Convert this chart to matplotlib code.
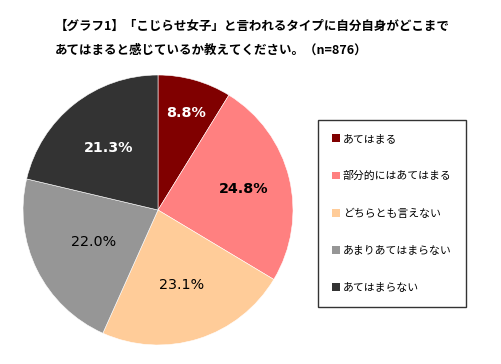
import numpy as np
import matplotlib.pyplot as plt
from matplotlib.patches import Patch

# Data
categories = ["あてはまる", "部分的にはあてはまる", "どちらとも言えない",
              "あまりあてはまらない", "あてはまらない"]
values = [8.8, 24.8, 23.1, 22.0, 21.3]
colors = ["#800000", "#FF8080", "#FFCC99", "#969696", "#333333"]
title = ("【グラフ1】「こじらせ女子」と言われるタイプに自分自身がどこまで\n"
         "あてはまると感じているか教えてください。（n=876）")

# label styling (position distance as fraction of radius)
label_dist = [0.75, 0.65, 0.58, 0.53, 0.59]
label_color = ["white", "black", "black", "black", "white"]
label_weight = ["bold", "bold", "normal", "normal", "bold"]

W, H = 502, 364
fig = plt.figure(figsize=(W / 100, H / 100), dpi=100)
fig.patch.set_facecolor("white")

jp = ["Noto Sans CJK JP", "DejaVu Sans"]
num = ["DejaVu Sans", "Noto Sans CJK JP"]

# Pie
cx, cy, r = 158, 210, 135
ax = fig.add_axes([(cx - r) / W, (H - cy - r) / H, 2 * r / W, 2 * r / H])
wedges, _ = ax.pie(values, colors=colors, startangle=90, counterclock=False,
                   radius=1.0, wedgeprops=dict(edgecolor="white", linewidth=0.4))
ax.set_xlim(-1, 1)
ax.set_ylim(-1, 1)
ax.set_aspect("equal")
ax.axis("off")

for w, v, d, c, fw in zip(wedges, values, label_dist, label_color, label_weight):
    ang = np.deg2rad((w.theta1 + w.theta2) / 2)
    ax.text(d * np.cos(ang), d * np.sin(ang), f"{v:.1f}%", ha="center", va="center",
            fontsize=10.3, color=c, fontweight=fw, family=num)

# Title
fig.text(55 / W, 1 - 26 / H, title.split("\n")[0], ha="left", va="center",
         fontsize=9, fontweight="bold", family=jp)
fig.text(55 / W, 1 - 50 / H, title.split("\n")[1], ha="left", va="center",
         fontsize=9, fontweight="bold", family=jp)

# Legend
handles = [Patch(facecolor=c, edgecolor="none") for c in colors]
leg = fig.legend(handles, categories, loc="upper left",
                 bbox_to_anchor=(318 / W, 1 - 120 / H), frameon=True,
                 prop={"family": jp, "size": 7.8}, handlelength=0.7,
                 handleheight=0.7, handletextpad=0.3, labelspacing=2.5,
                 borderpad=1.3, borderaxespad=0, fancybox=False)
leg.get_frame().set_edgecolor("black")
leg.get_frame().set_linewidth(1.0)

fig.savefig("out.png", dpi=100)
